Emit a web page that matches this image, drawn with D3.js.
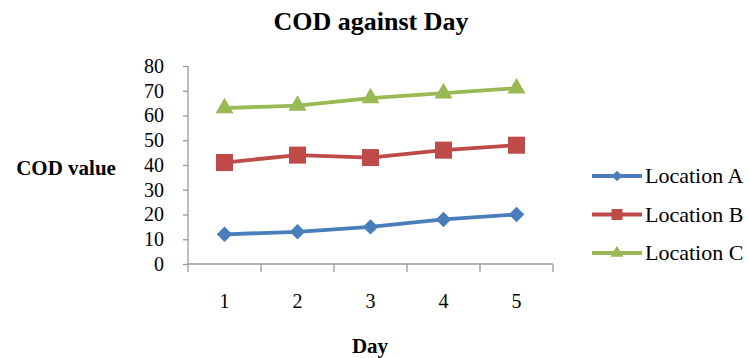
<html>
<head>
<style>
body { margin: 0; background: #fff; }
svg { display: block; }
svg text { font-family: 'Liberation Serif', 'Times New Roman', serif; fill: #000; }
</style>
</head>
<body>
<svg width="749" height="358"></svg>
<script src="https://d3js.org/d3.v7.min.js"></script>
<script>
// Chart data
const days = ["1", "2", "3", "4", "5"];
const locationA = [12, 13, 15, 18, 20];
const locationB = [41, 44, 43, 46, 48];
const locationC = [63, 64, 67, 69, 71];
const yTicks = [0, 10, 20, 30, 40, 50, 60, 70, 80];

// diamond = square turned 45 degrees
const series = [
	{name: "Location A", values: locationA, color: "#4A7EBB", symbol: d3.symbolSquare, rot: 45, size: 120, lsize: 55},
	{name: "Location B", values: locationB, color: "#BE4B48", symbol: d3.symbolSquare, rot: 0, size: 290, lsize: 120},
	{name: "Location C", values: locationC, color: "#98B954", symbol: d3.symbolTriangle, rot: 0, size: 140, lsize: 70}
];

const svg = d3.select("svg");

// scales
const x = d3.scaleBand().domain(days).range([188, 553]);
const y = d3.scaleLinear().domain([0, 80]).range([264, 66]);

// title
svg.append("text")
	.attr("x", 371).attr("y", 30)
	.attr("text-anchor", "middle")
	.style("font-size", "26px").style("font-weight", "bold")
	.text("COD against Day");

// y axis
const yAxis = svg.append("g")
	.attr("transform", "translate(188,0)")
	.call(d3.axisLeft(y).tickValues(yTicks).tickSize(5).tickPadding(19));
// x axis
const xAxis = svg.append("g")
	.attr("transform", "translate(0,264)")
	.call(d3.axisBottom(x).tickSize(0).tickPadding(30));

// category boundary ticks
svg.append("g").selectAll("line")
	.data(days.concat(["end"]))
	.join("line")
	.attr("x1", (d, i) => x.range()[0] + i * x.step())
	.attr("x2", (d, i) => x.range()[0] + i * x.step())
	.attr("y1", 264).attr("y2", 272)
	.attr("stroke", "#9a9a9a").attr("stroke-width", 1.3);

[yAxis, xAxis].forEach(function(g) {
	g.attr("font-family", null).attr("font-size", null);
	g.selectAll(".domain").attr("stroke", "#9a9a9a").attr("stroke-width", 1.3);
	g.selectAll(".tick line").attr("stroke", "#9a9a9a").attr("stroke-width", 1.3);
	g.selectAll("text")
		.attr("fill", "#000")
		.style("font-size", "20px");
});
yAxis.select(".domain").attr("d", "M0,66V264");
xAxis.select(".domain").attr("d", "M188,0H553");

// axis titles
svg.append("text")
	.attr("x", 66).attr("y", 175)
	.attr("text-anchor", "middle")
	.style("font-size", "21px").style("font-weight", "bold")
	.text("COD value");
svg.append("text")
	.attr("x", 370).attr("y", 353)
	.attr("text-anchor", "middle")
	.style("font-size", "21px").style("font-weight", "bold")
	.text("Day");

// lines and markers
const line = d3.line()
	.x((d, i) => x(days[i]) + x.bandwidth() / 2)
	.y(d => y(d));

series.forEach(function(s) {
	svg.append("path")
		.datum(s.values)
		.attr("d", line)
		.attr("fill", "none")
		.attr("stroke", s.color)
		.attr("stroke-width", 3.8);
	svg.append("g").selectAll("path")
		.data(s.values)
		.join("path")
		.attr("transform", (d, i) => "translate(" + (x(days[i]) + x.bandwidth() / 2) + "," + y(d) + ") rotate(" + s.rot + ")")
		.attr("d", d3.symbol().type(s.symbol).size(s.size))
		.attr("fill", s.color);
});

// legend
const legend = svg.append("g").selectAll("g")
	.data(series)
	.join("g")
	.attr("transform", (d, i) => "translate(592," + (176 + i * 38.5) + ")");
legend.append("line")
	.attr("x1", 0).attr("x2", 50)
	.attr("stroke", d => d.color).attr("stroke-width", 3.8);
legend.append("path")
	.attr("transform", d => "translate(25,0) rotate(" + d.rot + ")")
	.attr("d", d => d3.symbol().type(d.symbol).size(d.lsize)())
	.attr("fill", d => d.color);
legend.append("text")
	.attr("x", 53).attr("y", 7)
	.style("font-size", "22px")
	.text(d => d.name);
</script>
</body>
</html>
